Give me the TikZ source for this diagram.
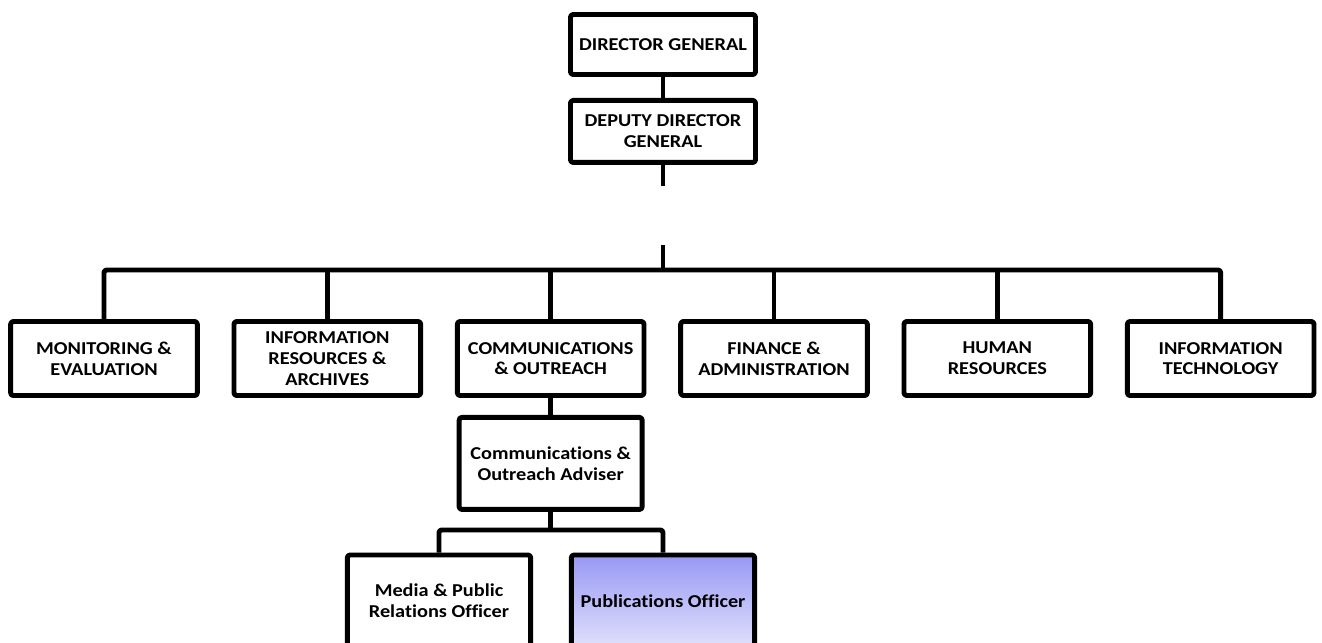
\documentclass[tikz,border=0pt]{standalone}
\usepackage{fontspec}
\setmainfont{Carlito}[FakeStretch=1.12, Ligatures=NoCommon]
\usetikzlibrary{positioning}
\definecolor{pubtop}{RGB}{152,152,245}
\definecolor{pubbot}{RGB}{224,224,252}

\begin{document}
\begin{tikzpicture}[
  x=0.75pt, y=-0.75pt,
  font=\fontsize{13.6}{15.5}\selectfont\bfseries,
  line width=3.7pt, line join=round,
  box/.style={draw, rounded corners=2pt, align=center, inner sep=2pt, fill=white},
  headbox/.style={box, minimum width=138.75pt, minimum height=45pt},
  unitbox/.style={box, minimum width=140pt, minimum height=55.5pt},
  staffbox/.style={box, minimum width=137.5pt, minimum height=69pt},
  pubbox/.style={staffbox, top color=pubtop, bottom color=pubbot},
]
\useasboundingbox (0,0) rectangle (1322,643);
\clip (0,0) rectangle (1322,643);

\node[headbox] (dg) at (663,44.5) {DIRECTOR GENERAL};
\node[headbox, minimum height=46.5pt, below=15.75pt of dg] (ddg) {DEPUTY DIRECTOR\\GENERAL};

\node[unitbox] (me) at (104,358.5) {MONITORING \&\\EVALUATION};
\node[unitbox, right=23.8pt of me] (ira) {INFORMATION\\RESOURCES \&\\ARCHIVES};
\node[unitbox, right=23.8pt of ira] (co) {COMMUNICATIONS\\\& OUTREACH};
\node[unitbox, right=23.8pt of co] (fa) {FINANCE \&\\ADMINISTRATION};
\node[unitbox, right=23.8pt of fa] (hr) {HUMAN\\RESOURCES};
\node[unitbox, right=23.8pt of hr] (it) {INFORMATION\\TECHNOLOGY};

\node[box, minimum width=137.25pt, minimum height=69pt, below=12.75pt of co] (adv) {Communications \&\\Outreach Adviser};
\node[staffbox] (media) at (439,601) {Media \& Public\\Relations Officer};
\node[pubbox] (pub) at (663,601) {Publications Officer};

\coordinate (stub) at (663,186);
\coordinate (hub) at (663,245);
\coordinate (bus) at (663,270);
\coordinate (sub) at (552,530);

\draw (dg.south) -- (ddg.north);
\draw (ddg.south) -- (stub);
\draw (hub) -- (bus);
\draw[rounded corners=2pt] (me.north) |- (it.north |- bus) -- (it.north);
\foreach \u in {ira,co,fa,hr}
  \draw (\u.north) -- (\u.north |- bus);

\draw (co.south) -- (adv.north);
\draw (adv.south) -- (adv.south |- sub);
\draw[rounded corners=2pt] (media.north) |- (pub.north |- sub) -- (pub.north);
\end{tikzpicture}
\end{document}
